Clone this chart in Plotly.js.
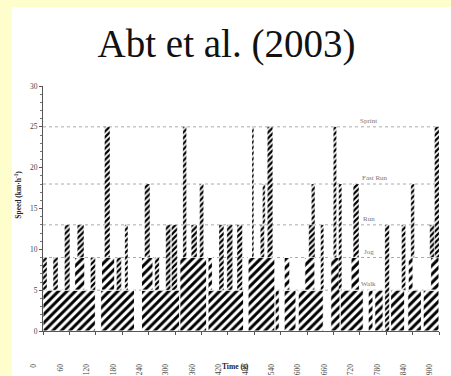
<!DOCTYPE html>
<html>
<head>
<meta charset="utf-8">
<script src="https://cdn.plot.ly/plotly-3.0.1.min.js"></script>
<style>
  html, body { margin:0; padding:0; width:451px; height:376px; overflow:hidden; background:#FEFDCC; }
  #chart { position:absolute; left:12px; top:7px; width:439px; height:369px; background:#ffffff; }
</style>
</head>
<body>
<div id="chart"></div>
<script>
// ---- Data (time in s, speed in km/h) ----
const levelNames  = ["Walk", "Jog", "Run", "Fast Run", "Sprint"];
const levelSpeeds = [5, 9, 13, 18, 25];

// Walking blocks (from 0 up to walk speed)
const walkStart = [0, 131, 224, 375, 527, 548, 580, 675, 739, 754, 790, 829, 864];
const walkEnd   = [119, 208, 311, 456, 537, 575, 637, 728, 750, 773, 822, 860, 900];

// Jogging blocks (wide)
const jogStart = [311, 466, 654, 72, 133, 224, 375, 548, 595, 700, 830, 881];
const jogEnd   = [372, 527, 675, 95, 163, 250, 385, 561, 618, 719, 841, 900];
const jogBase  = [0, 0, 0, 5, 5, 5, 5, 5, 5, 5, 5, 5];

// Short jogging bursts
const jogBurstStart = [0, 23, 108, 167, 254];
const jogBurstEnd   = [9, 34, 119, 178, 264];
const jogBurstBase  = [5, 5, 5, 5, 5];

// Running
const runStart = [49, 78, 186, 279, 292, 337, 400, 418, 441, 494, 604, 631, 777, 815, 879];
const runEnd   = [61, 93, 193, 290, 305, 350, 411, 431, 453, 503, 618, 638, 787, 824, 889];
const runBase  = [5, 9, 5, 5, 5, 9, 5, 5, 5, 9, 9, 5, 0, 5, 9];

// Fast running
const fastStart = [231, 356, 499, 610, 672, 705, 836];
const fastEnd   = [243, 365, 505, 618, 679, 718, 844];
const fastBase  = [9, 9, 13, 13, 5, 9, 9];

// Sprinting
const sprintStart = [140, 318, 475, 510, 660, 890];
const sprintEnd   = [152, 326, 479, 522, 667, 900];
const sprintBase  = [9, 9, 9, 9, 9, 9];

const xTicks = [0, 60, 120, 180, 240, 300, 360, 420, 480, 540, 600, 660, 720, 780, 840, 900];
const yTicks = [0, 5, 10, 15, 20, 25, 30];

// ---- Build traces ----
function barTrace(name, starts, ends, bases, top, patSize, solidity, lineW) {
  const x = [], w = [], y = [], b = [];
  for (let i = 0; i < starts.length; i++) {
    x.push((starts[i] + ends[i]) / 2);
    w.push(ends[i] - starts[i]);
    const base = bases ? bases[i] : 0;
    b.push(base);
    y.push(top - base);
  }
  return {
    type: 'bar', name: name, x: x, y: y, base: b, width: w,
    marker: {
      color: 'white',
      line: { color: 'white', width: lineW },
      pattern: { shape: '/', size: patSize, solidity: solidity, fgcolor: '#000', bgcolor: '#fff', fillmode: 'replace' }
    },
    hoverinfo: 'skip', showlegend: false
  };
}

const serif = 'Liberation Serif, Times New Roman, serif';

const traces = [
  barTrace('Walk', walkStart, walkEnd, null, levelSpeeds[0], 6, 0.5, 1),
  barTrace('Jog', jogStart, jogEnd, jogBase, levelSpeeds[1], 6, 0.5, 1),
  barTrace('Jog burst', jogBurstStart, jogBurstEnd, jogBurstBase, levelSpeeds[1], 4, 0.55, 0.3),
  barTrace('Run', runStart, runEnd, runBase, levelSpeeds[2], 4, 0.55, 0.3),
  barTrace('Fast Run', fastStart, fastEnd, fastBase, levelSpeeds[3], 4, 0.55, 0.3),
  barTrace('Sprint', sprintStart, sprintEnd, sprintBase, levelSpeeds[4], 4, 0.55, 0.2)
];

const shapes = levelSpeeds.map(v => ({
  type: 'line', xref: 'paper', x0: 0, x1: 1, yref: 'y', y0: v, y1: v,
  line: { color: '#aaaaaa', width: 1, dash: 'dot' }, layer: 'below'
}));

const labelX = [740, 740, 740, 754, 740];
const annotations = levelNames.map((n, i) => ({
  text: n, x: labelX[i], y: levelSpeeds[i], xref: 'x', yref: 'y',
  showarrow: false, yshift: 6, xanchor: 'center', yanchor: 'middle',
  font: { family: serif, size: 7, color: '#777777' }
}));
annotations.push({
  text: '<b>Speed (km·h<sup>-1</sup>)</b>', textangle: -90,
  xref: 'paper', yref: 'paper', x: -0.064, y: 0.555, showarrow: false,
  xanchor: 'center', yanchor: 'middle',
  font: { family: serif, size: 7.5, color: '#222' }
});
annotations.push({
  text: '<b>Time (s)</b>',
  xref: 'paper', yref: 'paper', x: 0.487, y: -0.143, showarrow: false,
  xanchor: 'center', yanchor: 'middle',
  font: { family: serif, size: 7.5, color: '#222' }
});

const layout = {
  width: 439, height: 369,
  margin: { l: 31, r: 12, t: 79, b: 45 },
  paper_bgcolor: '#ffffff', plot_bgcolor: '#ffffff',
  barmode: 'overlay', bargap: 0,
  title: {
    text: 'Abt et al. (2003)',
    font: { family: serif, size: 39, color: '#111' },
    x: 0.4886, xref: 'container', xanchor: 'center',
    y: 0.902, yref: 'container', yanchor: 'middle'
  },
  xaxis: {
    range: [0, 900], tickvals: xTicks, ticktext: xTicks.map(String),
    tickangle: -90, ticks: 'outside', ticklen: 3, tickcolor: '#555',
    showline: true, linecolor: '#555', linewidth: 1,
    showgrid: false, zeroline: false,
    ticklabelstandoff: 26, ticklabelshift: -9,
    tickfont: { family: serif, size: 7.5, color: '#444' }
  },
  yaxis: {
    range: [0, 30], tickvals: yTicks, ticktext: yTicks.map(String),
    ticks: 'outside', ticklen: 3, tickcolor: '#555',
    minor: { dtick: 1, ticks: 'outside', ticklen: 2, tickcolor: '#777' },
    showline: true, linecolor: '#555', linewidth: 1,
    showgrid: false, zeroline: false,
    tickfont: { family: serif, size: 7.5, color: '#444' }
  },
  shapes: shapes,
  annotations: annotations
};

Plotly.newPlot('chart', traces, layout, { displayModeBar: false, staticPlot: true });
</script>
</body>
</html>
